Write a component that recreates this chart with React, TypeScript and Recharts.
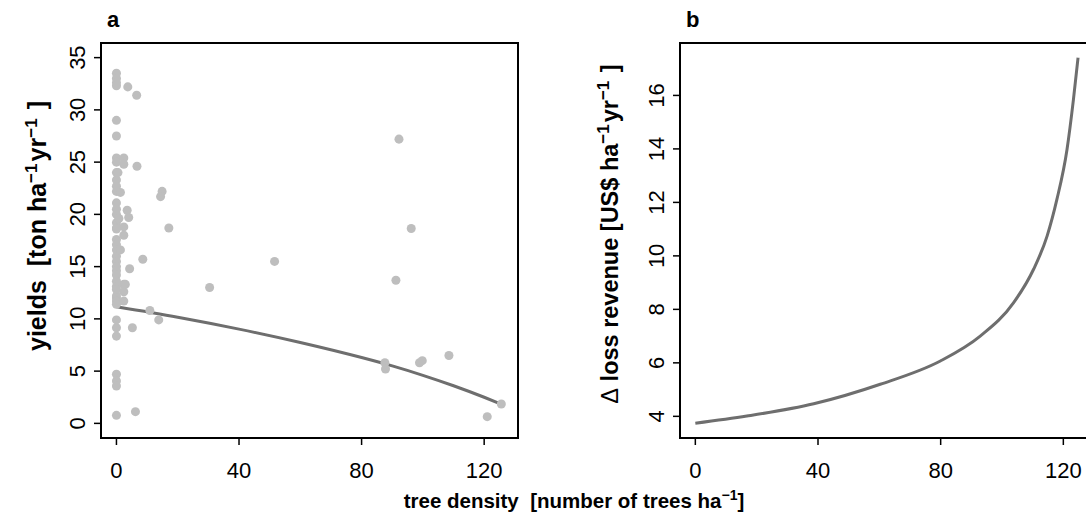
import React from "react";
import { ComposedChart, Scatter, Line, XAxis, YAxis, ReferenceArea } from "recharts";

const xTicks = [0, 40, 80, 120];
const yieldTicks = [0, 5, 10, 15, 20, 25, 30, 35];
const lossTicks = [4, 6, 8, 10, 12, 14, 16];

// observed plots (tree density vs yield)
const densityObs = [
  0, 0, 0, 0, 0, 0, 0, 0, 0, 0, 0, 0, 0, 0, 0, 0, 0, 0, 0, 0,
  0, 0, 0, 0, 0, 0, 0, 0, 0, 0, 0, 0, 0, 0, 0, 0, 0, 0, 0, 0,
  0.5, 0.8, 1.3, 1.3,
  2.4, 2.4, 2.4, 2.4, 2.4, 2.4, 2.4, 2.9,
  3.7, 6.6, 6.7, 3.5, 4.0, 14.9, 14.4, 17.1, 8.6, 4.3, 10.9, 13.8, 5.2, 6.2,
  30.4, 51.6, 92.2, 96.2, 91.2, 87.6, 87.8, 98.9, 99.8, 108.5, 125.6, 121.0,
];
const yieldObs = [
  33.5, 33.0, 32.6, 32.3, 29.0, 27.5, 25.4, 25.0, 23.3, 22.7, 22.2, 21.1, 20.5, 20.0, 19.2, 18.7, 18.6, 17.6, 17.1, 16.6,
  16.0, 15.5, 15.0, 14.6, 14.2, 13.6, 13.1, 12.8, 12.2, 12.0, 11.7, 11.4, 9.9, 9.15, 8.35, 4.7, 4.05, 3.57, 0.77, 24.0,
  24.0, 19.6, 22.1, 16.6,
  25.4, 24.8, 18.8, 18.0, 13.3, 12.6, 11.7, 13.3,
  32.2, 31.4, 24.6, 20.4, 19.7, 22.2, 21.7, 18.7, 15.7, 14.8, 10.8, 9.9, 9.15, 1.12,
  13.0, 15.5, 27.2, 18.65, 13.7, 5.8, 5.2, 5.8, 6.0, 6.5, 1.85, 0.64,
];

// fitted yield curve
const fitDensity = [0, 20, 40, 60, 80, 90, 100, 110, 120, 125.5];
const fitYield = [11.16, 10.16, 9.02, 7.74, 6.3, 5.5, 4.6, 3.6, 2.5, 1.85];

// loss revenue curve (panel b)
const lossDensity = [0, 16.8, 38.6, 60.3, 79.9, 92.9, 103.8, 110.3, 114.7, 117.9, 121.2, 123.3, 124.8];
const lossRevenue = [3.74, 4.01, 4.47, 5.2, 6.07, 7.0, 8.25, 9.5, 10.74, 12.11, 13.98, 15.85, 17.41];

const obs = densityObs.map((x, i) => ({ x, y: yieldObs[i] }));
const fit = fitDensity.map((x, i) => ({ x, y: fitYield[i] }));
const loss = lossDensity.map((x, i) => ({ x, y: lossRevenue[i] }));

const FONT = "'Liberation Sans', Arial, Helvetica, sans-serif";
const LINE = "#6e6e6e";
const DOT = "#bebebe";

const XTick = (props: any) => {
  const { x, y, payload } = props;
  return (
    <text x={x} y={y + 31} textAnchor="middle" fontFamily={FONT} fontSize={22} fill="#000">
      {payload.value}
    </text>
  );
};

const YTick = (props: any) => {
  const { x, y, payload } = props;
  return (
    <text
      transform={`translate(${x - 15},${y}) rotate(-90)`}
      dy="0.36em"
      textAnchor="middle"
      fontFamily={FONT}
      fontSize={22}
      fill="#000"
    >
      {payload.value}
    </text>
  );
};

const sup = (s: string) => (
  <>
    <tspan dy={-9} fontSize={17}>{s}</tspan>
    <tspan dy={9}>{"\u200a"}</tspan>
  </>
);

export default function App() {
  return (
    <div style={{ position: "fixed", left: 0, top: 0, width: 1086, height: 517, overflow: "hidden", background: "#fff" }}>
      <div style={{ position: "absolute", left: 0, top: 0 }}>
        <ComposedChart width={560} height={517} margin={{ top: 43, right: 42, bottom: 39, left: 41 }}>
          <XAxis
            type="number"
            dataKey="x"
            domain={[-5.04, 131.04]}
            ticks={xTicks}
            interval={0}
            allowDataOverflow
            axisLine={false}
            tickSize={7}
            tickLine={{ stroke: "#000", strokeWidth: 1.5 }}
            tick={<XTick />}
            height={40}
          />
          <YAxis
            type="number"
            dataKey="y"
            domain={[-1.4, 36.4]}
            ticks={yieldTicks}
            interval={0}
            allowDataOverflow
            axisLine={false}
            tickSize={7}
            tickLine={{ stroke: "#000", strokeWidth: 1.5 }}
            tick={<YTick />}
            width={60}
          />
          <Scatter data={obs} fill={DOT} isAnimationActive={false} />
          <Line data={fit} dataKey="y" type="monotone" stroke={LINE} strokeWidth={3} dot={false} activeDot={false} isAnimationActive={false} />
          <ReferenceArea x1={-5.04} x2={131.04} y1={-1.4} y2={36.4} fill="none" stroke="#000" strokeWidth={2} ifOverflow="visible" />
        </ComposedChart>
      </div>
      <div style={{ position: "absolute", left: 600, top: 0 }}>
        <ComposedChart width={520} height={517} margin={{ top: 43, right: 26, bottom: 39, left: 20 }}>
          <XAxis
            type="number"
            dataKey="x"
            domain={[-5, 130]}
            ticks={xTicks}
            interval={0}
            allowDataOverflow
            axisLine={false}
            tickSize={7}
            tickLine={{ stroke: "#000", strokeWidth: 1.5 }}
            tick={<XTick />}
            height={40}
          />
          <YAxis
            type="number"
            dataKey="y"
            domain={[3.19, 17.96]}
            ticks={lossTicks}
            interval={0}
            allowDataOverflow
            axisLine={false}
            tickSize={7}
            tickLine={{ stroke: "#000", strokeWidth: 1.5 }}
            tick={<YTick />}
            width={60}
          />
          <Line data={loss} dataKey="y" type="monotone" stroke={LINE} strokeWidth={3} dot={false} activeDot={false} isAnimationActive={false} />
          <ReferenceArea x1={-5} x2={130} y1={3.19} y2={17.96} fill="none" stroke="#000" strokeWidth={2} ifOverflow="visible" />
        </ComposedChart>
      </div>
      <svg width={1086} height={517} style={{ position: "absolute", left: 0, top: 0, pointerEvents: "none" }}>
        <g fontFamily={FONT} fontWeight="bold" fill="#000">
          <text x={107} y={27} fontSize={22}>a</text>
          <text x={686} y={27} fontSize={22}>b</text>
          <text transform="translate(46,226) rotate(-90)" textAnchor="middle" fontSize={25} xmlSpace="preserve">
            {"yields  [ton ha"}{sup("−1")}{"yr"}{sup("−1")}{" ]"}
          </text>
          <text transform="translate(618,234) rotate(-90)" textAnchor="middle" fontSize={23.5} xmlSpace="preserve">
            <tspan fontWeight="normal">Δ</tspan>{" loss revenue [US$ ha"}{sup("−1")}{"yr"}{sup("−1")}{" ]"}
          </text>
          <text x={574} y={508} textAnchor="middle" fontSize={20.5} xmlSpace="preserve">
            {"tree density  [number of trees ha"}
            <tspan dy={-8} fontSize={14}>−1</tspan>
            <tspan dy={8}>]</tspan>
          </text>
        </g>
      </svg>
    </div>
  );
}
